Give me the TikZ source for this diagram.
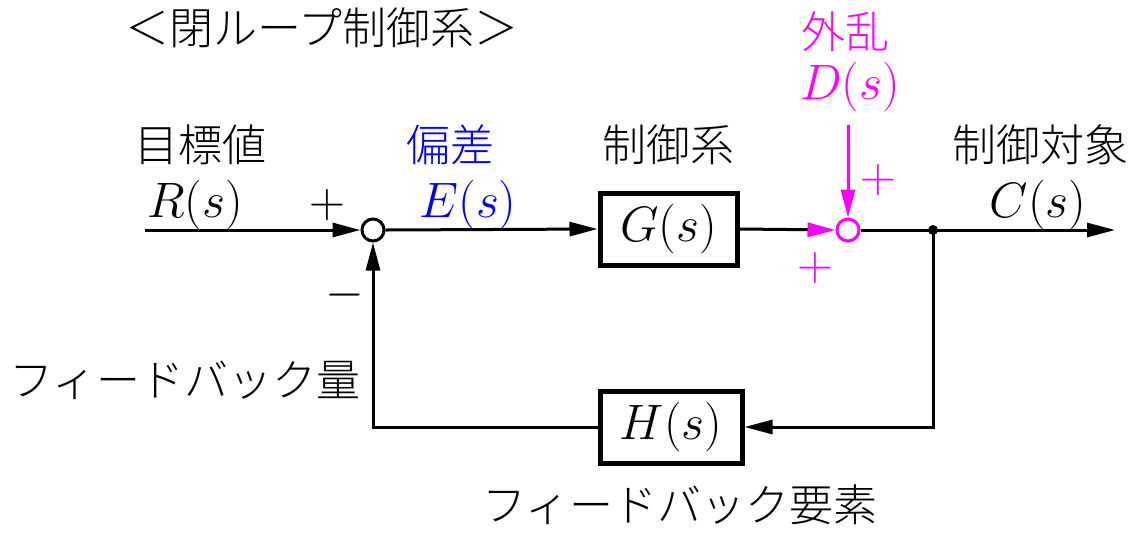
\documentclass[tikz,border=0pt]{standalone}
\usepackage{fontspec}
\usepackage{xcolor}
\newfontfamily\jp{Noto Sans CJK JP Light}
\definecolor{mag}{RGB}{255,0,255}
\definecolor{blu}{RGB}{0,0,255}
\usetikzlibrary{arrows.meta,calc}

\tikzset{
  blk/.style={draw,line width=2.5pt,minimum width=68.5pt,minimum height=36pt,inner sep=0pt,font=\fontsize{23}{27}\selectfont},
  sumpt/.style={draw,circle,line width=1.5pt,minimum size=11pt,inner sep=0pt,fill=white},
  lbl/.style={font=\jp\fontsize{22}{26}\selectfont,inner sep=0pt},
  sig/.style={font=\fontsize{23}{27}\selectfont,inner sep=0pt},
  sgn/.style={font=\fontsize{26}{30}\selectfont,inner sep=0pt},
  arr/.style={-{Triangle[length=14pt,width=7pt]}},
}

\begin{document}
\begin{tikzpicture}[x=0.5pt,y=-0.5pt,line width=1.5pt]
    \useasboundingbox (0,0) rectangle (1147,532);
    % blocks and junctions
    \node[blk] (G) at (668.5,229) {$G(s)$};
    \node[blk,minimum width=71pt] (H) at (671,427) {$H(s)$};
    \node[sumpt] (sumA) at (373,230) {};
    \node[sumpt,draw=mag] (sumB) at (848,230) {};
    \fill (933,230) circle (5) coordinate (branch);
    \coordinate (inp) at (145,230);
    \coordinate (outp) at (1115,230);
    \coordinate (dist) at (848,125);
    % connectors
    \draw[arr] (inp) -- (sumA.west);
    \draw[arr] (sumA.east) -- (G.west);
    \draw[-{Triangle[length=14pt,width=7pt,color=mag]}] (G.east) -- (sumB.west);
    \draw (sumB.east) -- (branch);
    \draw[arr] (branch) -- (outp);
    \draw[arr] (branch) |- (H.east);
    \draw[arr] (H.west) -| (sumA.south);
    \draw[arr,mag] (dist) -- (sumB.north);
    % labels
    \node[lbl] (title) at (322,28) {＜閉ループ制御系＞};
    \node[lbl] (refname) at (200,145) {目標値};
    \node[sig] (refsig) at (195,205) {$R(s)$};
    \node[lbl,blu] (errname) at (450,145) {偏差};
    \node[sig,blu] (errsig) at (468,205) {$E(s)$};
    \node[lbl] (plantname) at (668,145) {制御系};
    \node[lbl] (outname) at (1040,145) {制御対象};
    \node[sig] (outsig) at (1038,205) {$C(s)$};
    \node[lbl,mag] (distname) at (845,32) {外乱};
    \node[sig,mag] (distsig) at (850,87) {$D(s)$};
    \node[sgn] (plusA) at (327,205) {$+$};
    \node[sgn] (minusA) at (345,295) {$-$};
    \node[sgn,mag] (plusB) at (815,268) {$+$};
    \node[sgn,mag] (plusC) at (878,180) {$+$};
    \node[lbl] (fbname) at (185,380) {フィードバック量};
    \node[lbl] (fbblk) at (680,505) {フィードバック要素};
\end{tikzpicture}
\end{document}
